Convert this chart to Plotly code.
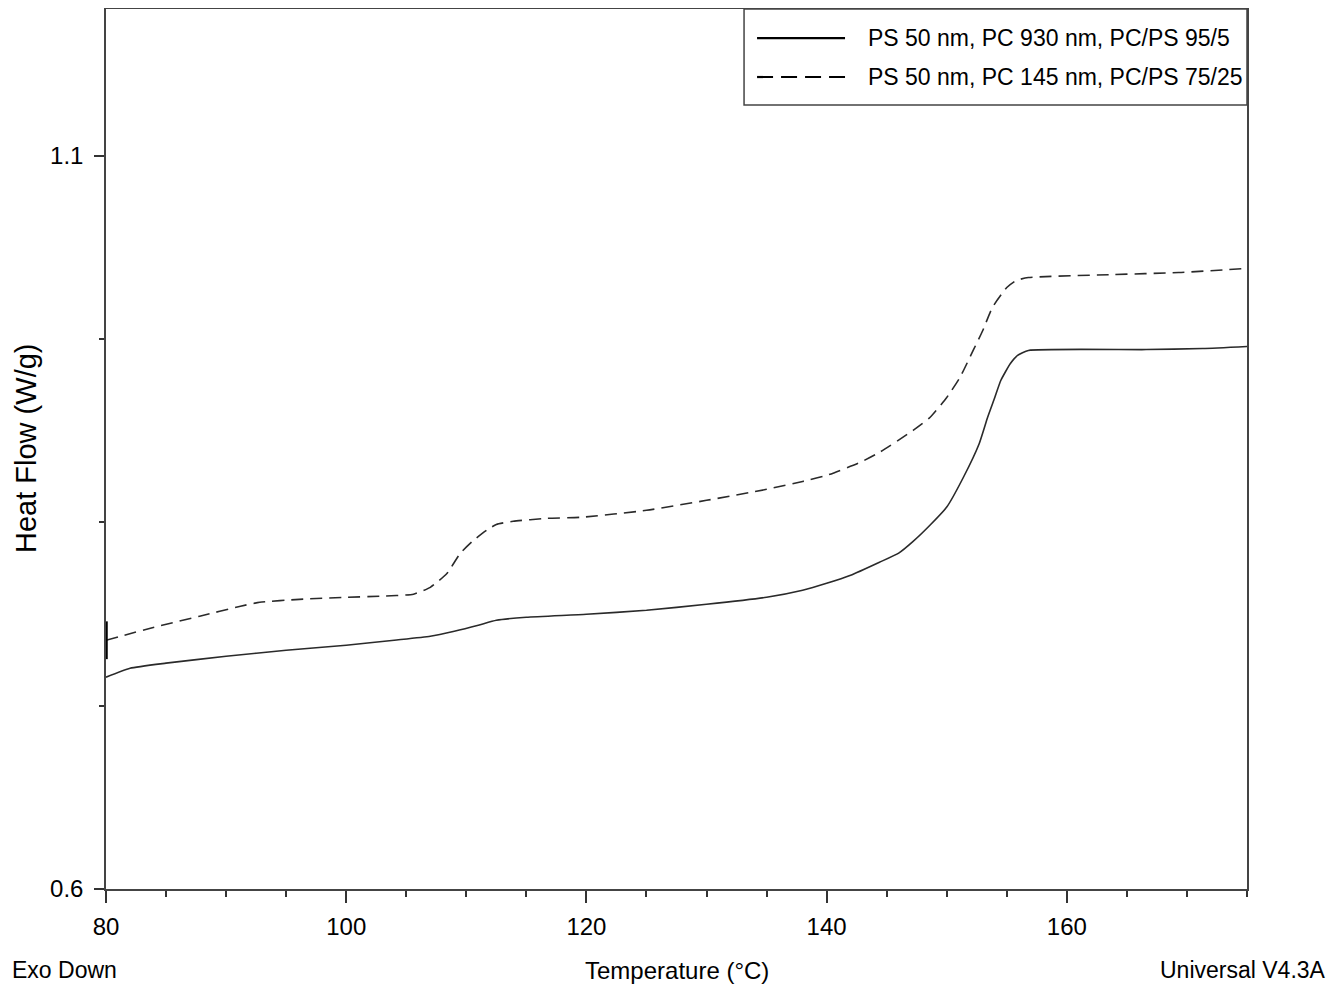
import plotly.graph_objects as go

# Solid series: PS 50 nm, PC 930 nm, PC/PS 95/5
temp_solid = [80.0, 82.0, 85.0, 90.0, 95.0, 100.0, 104.0, 107.0, 109.0, 111.0, 112.5, 115.0,
              120.0, 125.0, 130.0, 135.0, 138.0, 140.0, 142.0, 144.4, 146.0, 147.2, 148.6,
              150.0, 151.4, 152.7, 153.4, 154.0, 154.5, 155.3, 155.9, 156.8, 166.6, 171.3, 175.0]
hf_solid = [0.7444, 0.7505, 0.7540, 0.7587, 0.7628, 0.7662, 0.7696, 0.7723, 0.7757, 0.7798, 0.7832, 0.7853,
            0.7873, 0.7901, 0.7941, 0.7989, 0.8037, 0.8084, 0.8139, 0.8228, 0.8290, 0.8370, 0.8480,
            0.8604, 0.8809, 0.9036, 0.9215, 0.9351, 0.9467, 0.9583, 0.9638, 0.9672, 0.9678, 0.9685, 0.9699]

# Dashed series: PS 50 nm, PC 145 nm, PC/PS 75/25
temp_dashed = [80.0, 83.7, 87.8, 91.2, 92.8, 96.1, 100.0, 102.8, 105.6, 107.0, 108.4, 109.5,
               110.6, 111.7, 112.5, 113.9, 116.7, 119.5, 125.0, 130.0, 135.0, 138.0, 140.0, 142.8,
               144.4, 147.2, 148.6, 150.0, 151.1, 152.2, 153.0, 153.8, 155.0, 155.8, 156.8, 163.7,
               169.3, 175.0]
hf_dashed = [0.7696, 0.7778, 0.7860, 0.7928, 0.7955, 0.7975, 0.7989, 0.7996, 0.8010, 0.8057, 0.8153, 0.8289,
             0.8377, 0.8446, 0.8486, 0.8507, 0.8527, 0.8534, 0.8582, 0.8650, 0.8725, 0.8779, 0.8820, 0.8909,
             0.8977, 0.9127, 0.9215, 0.9351, 0.9488, 0.9672, 0.9808, 0.9965, 1.0101, 1.0149, 1.0169, 1.0189,
             1.0203, 1.0231]

names = ["PS 50 nm, PC 930 nm, PC/PS 95/5", "PS 50 nm, PC 145 nm, PC/PS 75/25"]
x_ticks = [80, 100, 120, 140, 160]
y_ticks = [0.6, 1.1]

FONT = "Liberation Sans, Arial, sans-serif"
FS = 23
LINE_COLOR = "#2a2a2a"
DASH = "12px,7px"

fig = go.Figure()
fig.add_trace(go.Scatter(x=temp_solid, y=hf_solid, mode="lines", name=names[0], showlegend=False,
                         line=dict(color=LINE_COLOR, width=1.6, shape="spline", smoothing=0.5)))
fig.add_trace(go.Scatter(x=temp_dashed, y=hf_dashed, mode="lines", name=names[1], showlegend=False,
                         line=dict(color=LINE_COLOR, width=1.6, dash=DASH, shape="spline", smoothing=0.5)))
# cursor marker at start of dashed curve
fig.add_trace(go.Scatter(x=[temp_dashed[0]], y=[hf_dashed[0]], mode="markers", showlegend=False,
                         marker=dict(symbol="line-ns", size=27, line=dict(color="black", width=3.5)),
                         hoverinfo="skip", cliponaxis=False))

# legend box (drawn in paper coordinates)
leg_x0, leg_y0 = 0.5592, 0.8909
line_x0, line_x1, text_x = 0.5706, 0.6477, 0.6661
row_y = [0.9670, 0.9227]
shapes = [dict(type="rect", xref="paper", yref="paper", x0=leg_x0, x1=1, y0=leg_y0, y1=1,
               line=dict(color="#444", width=1.5), fillcolor="white", layer="above")]
for i, dash in enumerate(["solid", "16px,8px"]):
    shapes.append(dict(type="line", xref="paper", yref="paper", x0=line_x0, x1=line_x1,
                       y0=row_y[i], y1=row_y[i], line=dict(color="black", width=2.2, dash=dash), layer="above"))

annotations = [
    dict(text="Temperature (°C)", x=0.5, y=0, xref="paper", yref="paper", xanchor="center", yanchor="middle",
         yshift=-81, showarrow=False, font=dict(family=FONT, size=FS + 1)),
    dict(text="Heat Flow (W/g)", x=0, y=0.5, xref="paper", yref="paper", xanchor="center", yanchor="middle",
         xshift=-80, textangle=-90, showarrow=False, font=dict(family=FONT, size=29)),
    dict(text="Exo Down", x=0, y=0, xref="paper", yref="paper", xanchor="left", yanchor="middle",
         xshift=-96, yshift=-81, showarrow=False, font=dict(family=FONT, size=FS)),
    dict(text="Universal V4.3A", x=1, y=0, xref="paper", yref="paper", xanchor="right", yanchor="middle",
         xshift=81, yshift=-81, showarrow=False, font=dict(family=FONT, size=FS)),
]
for i, nm in enumerate(names):
    annotations.append(dict(text=nm, x=text_x, y=row_y[i], xref="paper", yref="paper",
                            xanchor="left", yanchor="middle", showarrow=False,
                            font=dict(family=FONT, size=FS)))

fig.update_layout(
    width=1326, height=992,
    margin=dict(l=98, r=87, t=1, b=111, autoexpand=False),
    plot_bgcolor="white", paper_bgcolor="white",
    font=dict(family=FONT, size=FS, color="black"),
    showlegend=False,
    xaxis=dict(range=[80, 175], tickvals=x_ticks, ticktext=[str(v) for v in x_ticks],
               ticks="outside", ticklen=12, tickwidth=1.5, tickcolor="#333",
               minor=dict(dtick=5, tick0=80, ticks="outside", ticklen=6, tickwidth=1.5, tickcolor="#333"),
               showline=True, linecolor="#444", linewidth=1.5, mirror=True,
               showgrid=False, zeroline=False, automargin=False,
               ticklabelstandoff=3, tickfont=dict(family=FONT, size=FS + 1)),
    yaxis=dict(range=[0.6, 1.2], tickvals=y_ticks, ticktext=["0.6", "1.1"],
               ticks="outside", ticklen=10, tickwidth=1.5, tickcolor="#333",
               minor=dict(dtick=0.125, tick0=0.6, ticks="outside", ticklen=5, tickwidth=1.5, tickcolor="#333"),
               showline=True, linecolor="#444", linewidth=1.5, mirror=True,
               showgrid=False, zeroline=False, automargin=False,
               ticklabelstandoff=6, tickfont=dict(family=FONT, size=FS + 1)),
    shapes=shapes,
    annotations=annotations,
)

fig.write_html("out.html")
